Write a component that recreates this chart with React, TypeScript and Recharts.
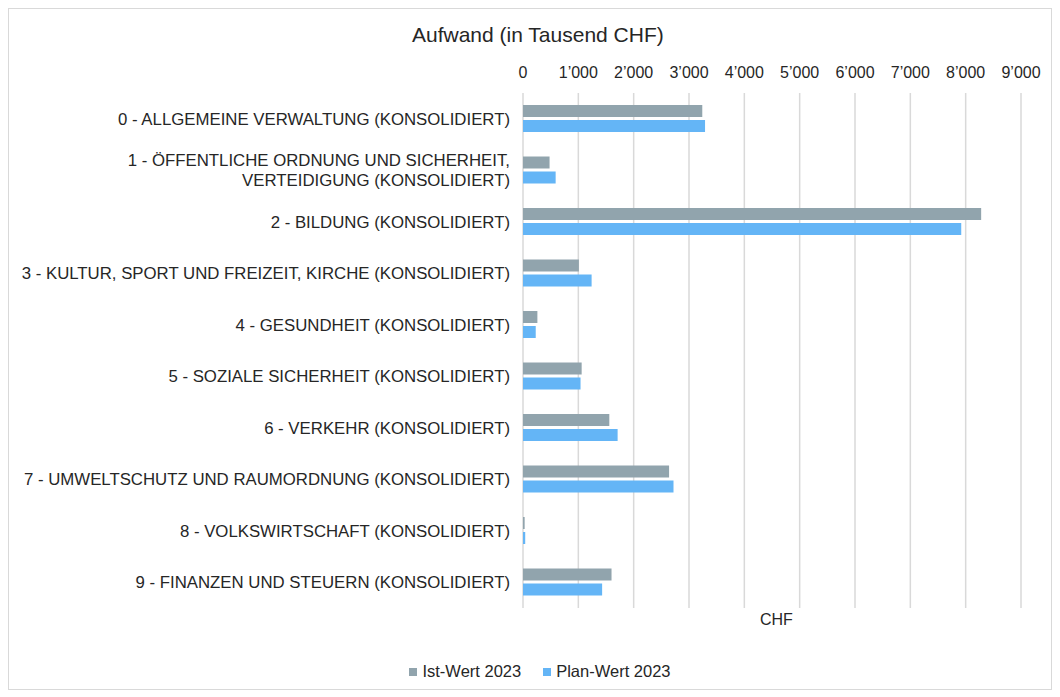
import { Bar, BarChart, CartesianGrid, Legend, XAxis, YAxis } from "recharts"

const CATEGORIES = [
    "0 - ALLGEMEINE VERWALTUNG (KONSOLIDIERT)",
    "1 - ÖFFENTLICHE ORDNUNG UND SICHERHEIT,\nVERTEIDIGUNG (KONSOLIDIERT)",
    "2 - BILDUNG (KONSOLIDIERT)",
    "3 - KULTUR, SPORT UND FREIZEIT, KIRCHE (KONSOLIDIERT)",
    "4 - GESUNDHEIT (KONSOLIDIERT)",
    "5 - SOZIALE SICHERHEIT (KONSOLIDIERT)",
    "6 - VERKEHR (KONSOLIDIERT)",
    "7 - UMWELTSCHUTZ UND RAUMORDNUNG (KONSOLIDIERT)",
    "8 - VOLKSWIRTSCHAFT (KONSOLIDIERT)",
    "9 - FINANZEN UND STEUERN (KONSOLIDIERT)",
];

const IST_2023 = [3240, 480, 8280, 1010, 260, 1060, 1560, 2640, 30, 1600];
const PLAN_2023 = [3290, 590, 7920, 1240, 230, 1040, 1710, 2720, 40, 1430];

const X_TICKS = [0, 1000, 2000, 3000, 4000, 5000, 6000, 7000, 8000, 9000];

const SERIES = [
    { key: "ist", name: "Ist-Wert 2023", color: "#91a4ad" },
    { key: "plan", name: "Plan-Wert 2023", color: "#64b5f6" },
];

const data = CATEGORIES.map((name, i) => ({ name, ist: IST_2023[i], plan: PLAN_2023[i] }));

const FONT = "'Liberation Sans', Arial, sans-serif";
const TEXT = "#262626";

const fmt = (v: number) => String(v).replace(/\B(?=(\d{3})+(?!\d))/g, "’");

const CategoryTick = ({ x, y, payload }: any) => {
    const lines = String(payload.value).split("\n");
    const lh = 20;
    const start = y - ((lines.length - 1) * lh) / 2;
    return (
        <text x={x} y={start} textAnchor="end" fill={TEXT} fontSize={16.8} fontFamily={FONT} dominantBaseline="central">
            {lines.map((l, i) => (
                <tspan key={i} x={x} y={start + i * lh}>{l}</tspan>
            ))}
        </text>
    );
};

const LegendContent = () => (
    <div style={{ display: "flex", justifyContent: "center", gap: 22, fontFamily: FONT, fontSize: 16.5, color: TEXT, paddingLeft: 50 }}>
        {SERIES.map((s) => (
            <span key={s.key} style={{ display: "flex", alignItems: "center" }}>
                <span style={{ width: 8, height: 8, background: s.color, marginRight: 5, display: "inline-block" }} />
                {s.name}
            </span>
        ))}
    </div>
);

export default function App() {
    return (
        <div style={{ position: "relative", width: 1044, height: 682, border: "1px solid #d9d9d9", boxSizing: "border-box", background: "#fff" }}>
            <div style={{ position: "absolute", left: 403, top: 14, fontFamily: FONT, fontSize: 21, color: TEXT, whiteSpace: "nowrap" }}>
                Aufwand (in Tausend CHF)
            </div>
            <div style={{ position: "absolute", left: 751, top: 602, fontFamily: FONT, fontSize: 16, color: TEXT }}>
                CHF
            </div>
            <BarChart
                width={1042}
                height={680}
                data={data}
                layout="vertical"
                margin={{ top: 54, right: 30, bottom: 61, left: 0 }}
                barSize={12}
                barGap={3}
            >
                <CartesianGrid horizontal={false} stroke="#d9d9d9" strokeWidth={1.5} />
                <XAxis
                    type="number"
                    orientation="top"
                    domain={[0, 9000]}
                    ticks={X_TICKS}
                    tickFormatter={fmt}
                    axisLine={false}
                    tickLine={false}
                    tickMargin={9}
                    height={30}
                    tick={{ fontSize: 16, fontFamily: FONT, fill: TEXT }}
                    interval={0}
                />
                <YAxis
                    type="category"
                    dataKey="name"
                    width={514}
                    axisLine={false}
                    tickLine={false}
                    tickMargin={7}
                    tick={<CategoryTick />}
                    interval={0}
                />
                {SERIES.map((s) => (
                    <Bar key={s.key} dataKey={s.key} name={s.name} fill={s.color} isAnimationActive={false} />
                ))}
                <Legend verticalAlign="bottom" content={<LegendContent />} wrapperStyle={{ top: 653, height: 20 }} />
            </BarChart>
        </div>
    )
}
